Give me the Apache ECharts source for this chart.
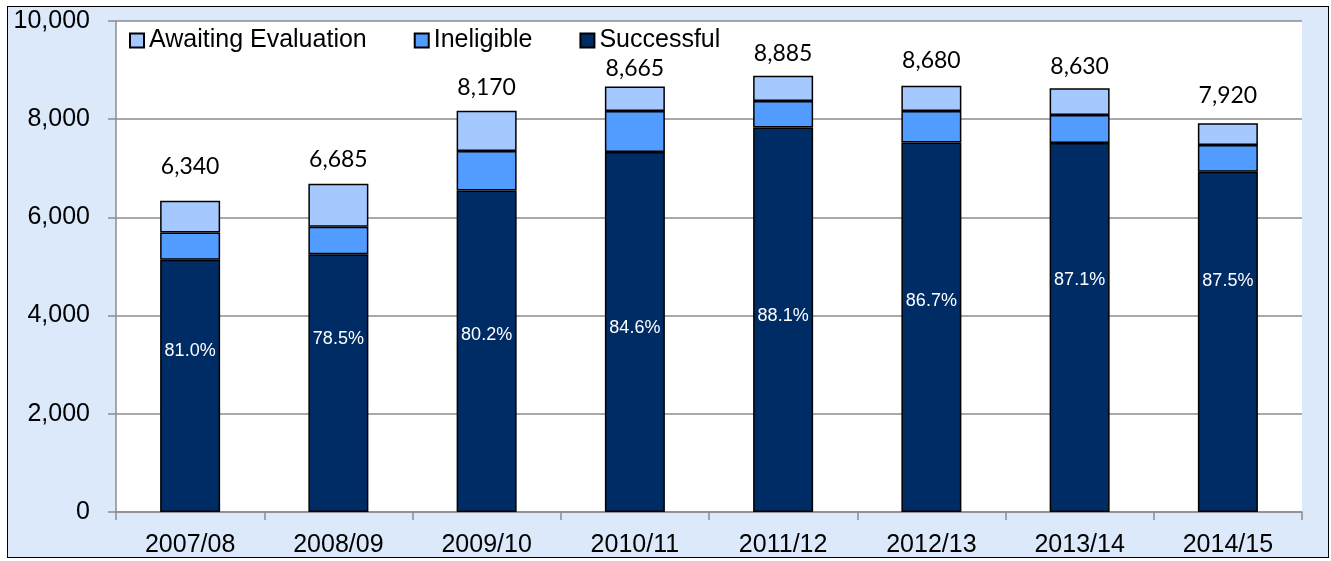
<!DOCTYPE html>
<html>
<head>
<meta charset="utf-8">
<script src="https://cdn.jsdelivr.net/npm/echarts@6/dist/echarts.min.js"></script>
<style>
  html, body { margin: 0; padding: 0; background: #ffffff; }
  #frame { position: absolute; left: 7px; top: 6px; width: 1320px; height: 550px;
           border: 1.5px solid #000; background: #dbe9fb; }
  #chart { position: absolute; left: 0; top: 0; width: 1331px; height: 561px; }
</style>
</head>
<body>
<div id="frame"></div>
<div id="chart"></div>
<script>
const categories = ['2007/08', '2008/09', '2009/10', '2010/11', '2011/12', '2012/13', '2013/14', '2014/15'];
const successful = [5135, 5250, 6550, 7330, 7830, 7525, 7515, 6930];
const ineligible = [555, 560, 800, 835, 540, 640, 570, 545];
const awaiting   = [650, 875, 820, 500, 515, 515, 545, 445];
const totals     = [6340, 6685, 8170, 8665, 8885, 8680, 8630, 7920];
const successRate = [81.0, 78.5, 80.2, 84.6, 88.1, 86.7, 87.1, 87.5];
const yMin = 0, yMax = 10000, yStep = 2000;

// label placement (style only)
const pctLabelY = ['36%', '33%', '45%', '49%', '49%', '43%', '37%', '32%'];
const totalLabelGap = [23, 13, 12, 6, 11, 14, 10, 16];

const fmt = v => v.toLocaleString('en-US');
const chart = echarts.init(document.getElementById('chart'), null, { renderer: 'canvas' });

const barBorder = { borderColor: '#000', borderWidth: 1.5 };
const arial = 'Liberation Sans, Arial, sans-serif';

chart.setOption({
  backgroundColor: 'transparent',
  animation: false,
  grid: { left: 116, right: 29, top: 21, bottom: 49, show: true, backgroundColor: '#ffffff', borderWidth: 0 },
  legend: {
    left: 129, top: 28, padding: 0,
    icon: 'rect',
    itemWidth: 14, itemHeight: 14, itemGap: 47,
    data: ['Awaiting Evaluation', 'Ineligible', 'Successful'],
    textStyle: { fontFamily: arial, fontSize: 25, color: '#000' }
  },
  xAxis: {
    type: 'category', data: categories,
    axisLine: { show: true, lineStyle: { color: '#8c8c8c', width: 1.5 } },
    axisTick: { show: true, alignWithLabel: false, length: 8, lineStyle: { color: '#8c8c8c', width: 1.5 } },
    axisLabel: { margin: 21, fontFamily: arial, fontSize: 25, color: '#000' }
  },
  yAxis: {
    type: 'value', min: yMin, max: yMax, interval: yStep,
    axisLine: { show: true, lineStyle: { color: '#8c8c8c', width: 1.5 } },
    axisTick: { show: true, length: 8, lineStyle: { color: '#8c8c8c', width: 1.5 } },
    splitLine: { show: true, lineStyle: { color: '#8c8c8c', width: 1.5 } },
    axisLabel: { margin: 26, fontFamily: arial, fontSize: 25, color: '#000',
                 formatter: v => fmt(v) }
  },
  series: [
    {
      name: 'Successful', type: 'bar', stack: 'total', barWidth: 60,
      itemStyle: Object.assign({ color: '#002c66' }, barBorder),
      data: successful.map((v, i) => ({
        value: v,
        label: {
          show: true, position: ['50%', pctLabelY[i]], align: 'center', verticalAlign: 'middle',
          formatter: () => successRate[i].toFixed(1) + '%',
          color: '#ffffff', fontFamily: arial, fontSize: 18
        }
      }))
    },
    {
      name: 'Ineligible', type: 'bar', stack: 'total', barWidth: 60,
      itemStyle: Object.assign({ color: '#529bff' }, barBorder),
      data: ineligible
    },
    {
      name: 'Awaiting Evaluation', type: 'bar', stack: 'total', barWidth: 60,
      itemStyle: Object.assign({ color: '#a5c9ff' }, barBorder),
      data: awaiting.map((v, i) => ({
        value: v,
        label: {
          show: true, position: 'top', distance: totalLabelGap[i],
          formatter: () => fmt(totals[i]),
          color: '#000', fontFamily: 'Lato, Carlito, sans-serif', fontSize: 23
        }
      }))
    }
  ]
});
</script>
</body>
</html>
